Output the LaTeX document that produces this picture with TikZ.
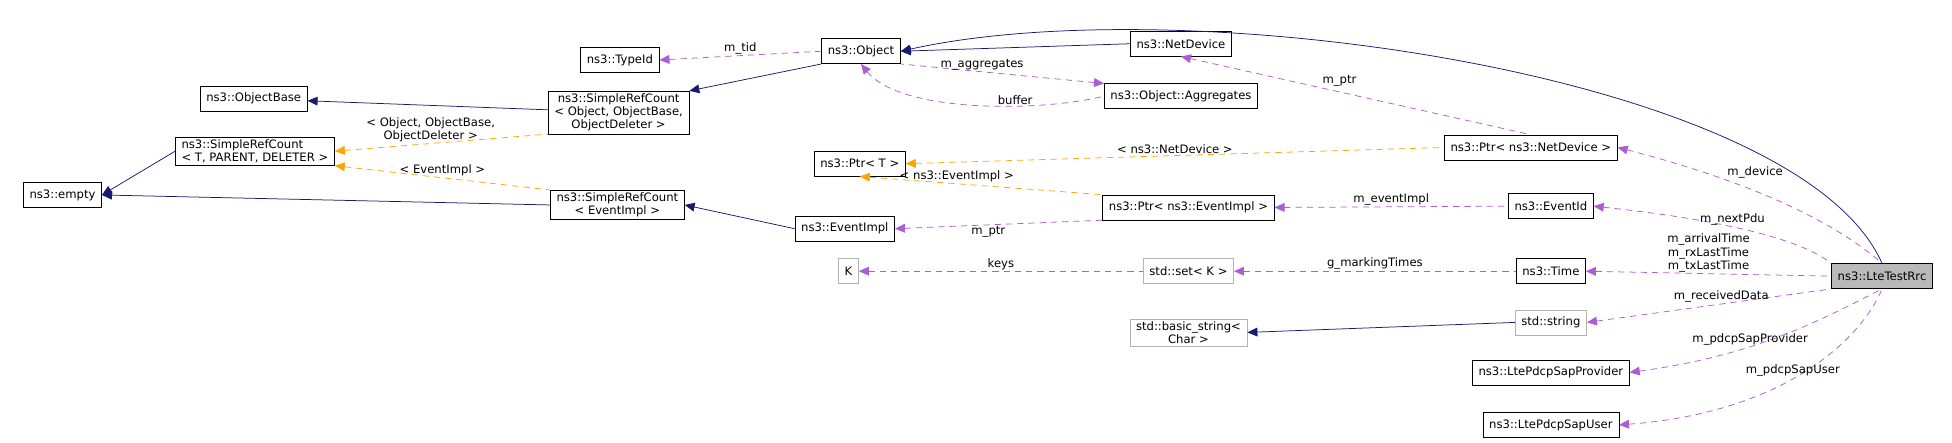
\documentclass[tikz,border=0pt]{standalone}
\usepackage{fontspec}
\setmainfont{DejaVu Sans}
\usetikzlibrary{arrows.meta}
\definecolor{inhblue}{HTML}{191970}
\definecolor{usepurple}{HTML}{9A32CD}
\definecolor{tmplorange}{HTML}{FFA500}

\begin{document}
\begin{tikzpicture}[x=1pt,y=-1pt,font=\fontsize{9.3}{10.6}\selectfont,
    cls/.style={draw,thin,inner xsep=5pt,inner ysep=2pt,align=center,minimum height=20pt},
    ext/.style={cls,draw=gray!60},
    cur/.style={cls,fill=gray!55},
    inh/.style={draw=inhblue,arrows={Triangle[length=8pt,width=7pt,fill=inhblue]-},line width=0.6pt},
    use/.style={draw=usepurple!80,dashed,dash pattern=on 5pt off 4pt,{Triangle[length=8pt,width=7pt,fill=usepurple!80]}-,line width=0.6pt},
    tmpl/.style={draw=tmplorange,dashed,dash pattern=on 5pt off 4pt,{Triangle[length=8pt,width=7pt,fill=tmplorange]}-,line width=0.6pt},
    lbl/.style={inner sep=1pt,align=center}]
  \useasboundingbox (0,0) rectangle (1562,354);

  % classes
  \node[cls] (empty)   at (  50,156) {ns3::empty};
  \node[cls,align=left] (srct) at ( 204,121) {ns3::SimpleRefCount\\< T, PARENT, DELETER >};
  \node[cls] (objbase) at ( 203, 79) {ns3::ObjectBase};
  \node[cls] (srcobj)  at ( 495, 90) {ns3::SimpleRefCount\\< Object, ObjectBase,\\ObjectDeleter >};
  \node[cls] (typeid)  at ( 496, 48) {ns3::TypeId};
  \node[cls] (object)  at ( 689, 41) {ns3::Object};
  \node[cls] (netdev)  at ( 945, 35) {ns3::NetDevice};
  \node[cls] (aggr)    at ( 945, 77) {ns3::Object::Aggregates};
  \node[cls] (ptrt)    at ( 688,131) {ns3::Ptr< T >};
  \node[cls] (ptrnd)   at (1225,118) {ns3::Ptr< ns3::NetDevice >};
  \node[cls] (srcev)   at ( 494,164) {ns3::SimpleRefCount\\< EventImpl >};
  \node[cls] (evimpl)  at ( 676,183) {ns3::EventImpl};
  \node[cls] (ptrev)   at ( 951,166) {ns3::Ptr< ns3::EventImpl >};
  \node[cls] (evid)    at (1241,165) {ns3::EventId};
  \node[ext] (k)       at ( 679,217) {K};
  \node[ext] (setk)    at ( 951,217) {std::set< K >};
  \node[cls] (time)    at (1241,217) {ns3::Time};
  \node[cur] (rrc)     at (1506,221) {ns3::LteTestRrc};
  \node[ext] (bstr)    at ( 951,266) {std::basic\_string<\\Char >};
  \node[ext] (str)     at (1241,258) {std::string};
  \node[cls] (prov)    at (1241,298) {ns3::LtePdcpSapProvider};
  \node[cls] (user)    at (1241,340) {ns3::LtePdcpSapUser};

  % inheritance
  \draw[inh] (empty.east) -- (srct.west);
  \draw[inh] (empty.east) -- (srcev.west);
  \draw[inh] (objbase) -- (srcobj);
  \draw[inh] (srcobj.north east) -- (object.south west);
  \draw[inh] (object.east) -- (netdev.west);
  \draw[inh] (object.east) .. controls (950,-10) and (1440,60) .. (rrc.north);
  \draw[inh] (srcev.east) -- (evimpl.west);
  \draw[inh] (bstr.east) -- (str.west);

  % template instances
  \draw[tmpl] (srct.east) -- node[lbl,above,pos=0.45] {< Object, ObjectBase,\\ObjectDeleter >} (srcobj.south west);
  \draw[tmpl] (srct.south east) -- node[lbl,above] {< EventImpl >} (srcev.north west);
  \draw[tmpl] (ptrt.east) -- node[lbl,above] {< ns3::NetDevice >} (ptrnd.west);
  \draw[tmpl] (ptrt.south) -- node[lbl,above,pos=0.4] {< ns3::EventImpl >} (ptrev.north west);

  % usage
  \draw[use] (typeid.east) -- node[lbl,above] {m\_tid} (object.west);
  \draw[use] (aggr.north west) -- node[lbl,above,pos=0.6] {m\_aggregates} (object.south east);
  \draw[use] (object.south) .. controls (720,90) and (830,90) .. node[lbl,above,pos=0.65] {buffer} (aggr.west);
  \draw[use] (netdev.south) -- node[lbl,above right,pos=0.4] {m\_ptr} (ptrnd.north);
  \draw[use] (evimpl.east) -- node[lbl,below,pos=0.45] {m\_ptr} (ptrev.south west);
  \draw[use] (ptrev.east) -- node[lbl,above] {m\_eventImpl} (evid.west);
  \draw[use] (k.east) -- node[lbl,above] {keys} (setk.west);
  \draw[use] (setk.east) -- node[lbl,above] {g\_markingTimes} (time.west);
  \draw[use] (ptrnd.east) .. controls (1380,140) and (1460,170) .. node[lbl,above right,pos=0.35] {m\_device} (rrc.north);
  \draw[use] (evid.east) .. controls (1370,175) and (1440,190) .. node[lbl,above,pos=0.45] {m\_nextPdu} (rrc.north west);
  \draw[use] (time.east) -- node[lbl,above,pos=0.5] {m\_arrivalTime\\m\_rxLastTime\\m\_txLastTime} (rrc.west);
  \draw[use] (str.east) -- node[lbl,above,pos=0.55] {m\_receivedData} (rrc.south west);
  \draw[use] (prov.east) .. controls (1400,285) and (1450,260) .. node[lbl,above,pos=0.4] {m\_pdcpSapProvider} (rrc.south);
  \draw[use] (user.east) .. controls (1430,330) and (1490,270) .. node[lbl,above,pos=0.45] {m\_pdcpSapUser} (rrc.south);
\end{tikzpicture}
\end{document}
